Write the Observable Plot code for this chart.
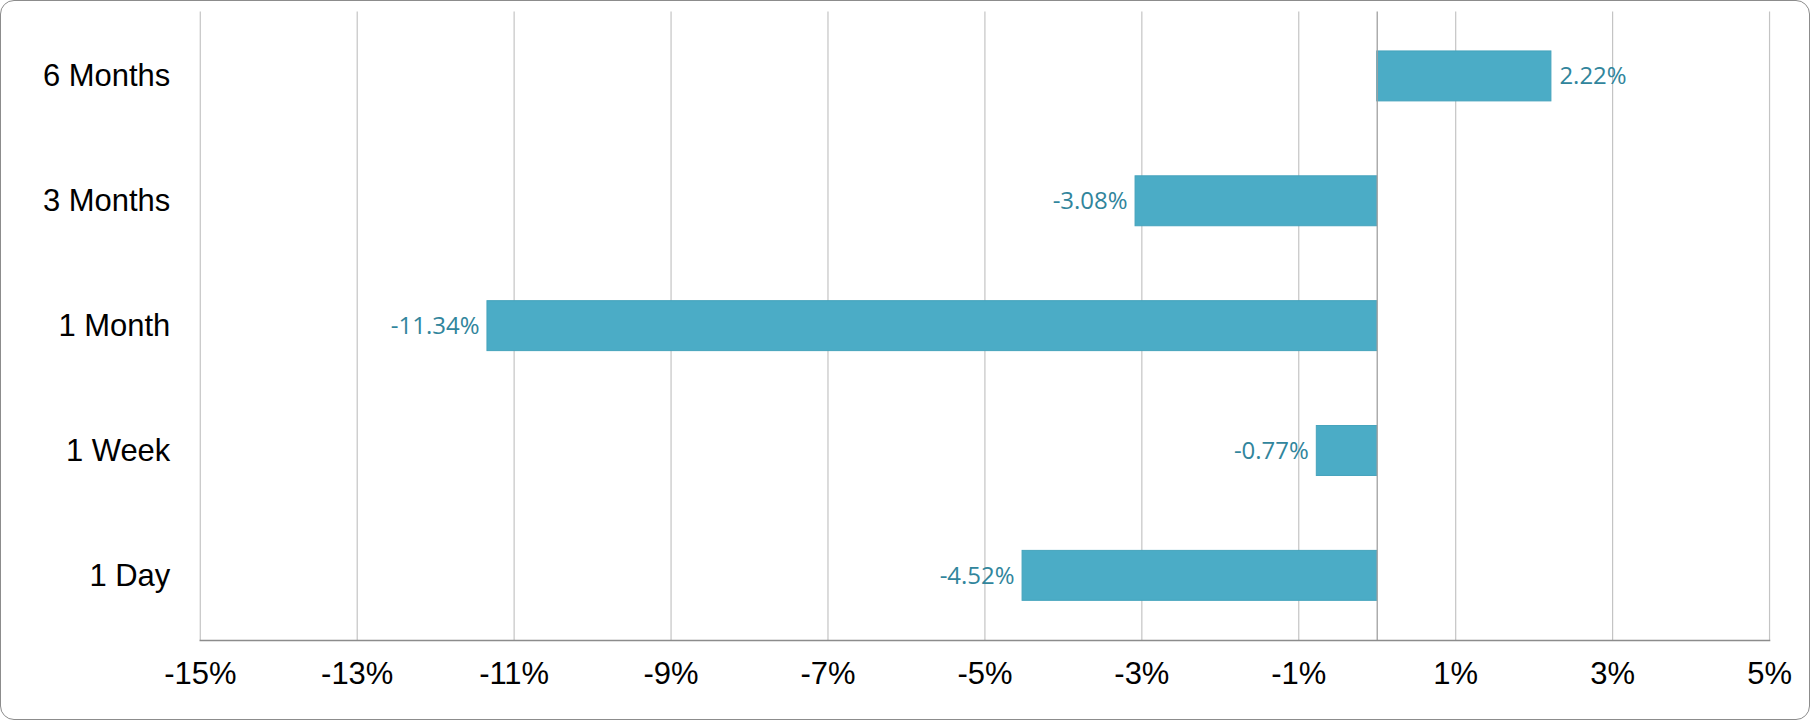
<!DOCTYPE html>
<html>
<head>
<meta charset="utf-8">
<script src="https://cdn.jsdelivr.net/npm/d3@7"></script>
<script src="https://cdn.jsdelivr.net/npm/@observablehq/plot@0.6"></script>
<style>
  html, body { margin: 0; padding: 0; background: #fff; }
  #wrap { position: relative; width: 1810px; height: 720px; box-sizing: border-box;
          border: 1.5px solid #8c8c8c; border-radius: 14px; overflow: hidden; background: #fff; }
  #wrap svg { position: absolute; top: -1.5px; left: -1.5px; }
</style>
</head>
<body>
<div id="wrap"></div>
<script>
const periods = ["6 Months", "3 Months", "1 Month", "1 Week", "1 Day"];
const returns = [2.22, -3.08, -11.34, -0.77, -4.52];
const xTicks = [-15, -13, -11, -9, -7, -5, -3, -1, 1, 3, 5];

const data = periods.map((p, i) => ({period: p, value: returns[i]}));
const fmt = v => v.toFixed(2) + "%";

const chart = Plot.plot({
  width: 1810,
  height: 720,
  marginLeft: 200,
  marginRight: 39,
  marginTop: 11.5,
  marginBottom: 79.3,
  style: {fontFamily: "Arial, 'Liberation Sans', sans-serif", background: "transparent", color: "#000"},
  x: {domain: [-15, 5], ticks: xTicks},
  y: {domain: periods, paddingInner: 0.603, paddingOuter: 0.3015},
  marks: [
    Plot.ruleX(xTicks, {stroke: "#c4c4c4", strokeWidth: 1.2}),
    Plot.barX(data, {x: "value", y: "period", fill: "#4BACC6", stroke: "#45a3bc", strokeWidth: 1}),
    Plot.ruleX([0], {stroke: "#a0a0a0", strokeWidth: 1.3}),
    Plot.frame({anchor: "bottom", stroke: "#8c8c8c", strokeWidth: 1.5}),
    Plot.text(data.filter(d => d.value >= 0), {x: "value", y: "period", text: d => fmt(d.value),
      textAnchor: "start", dx: 8, fill: "#31859C", fontSize: 24, fontFamily: "'Open Sans', sans-serif"}),
    Plot.text(data.filter(d => d.value < 0), {x: "value", y: "period", text: d => fmt(d.value),
      textAnchor: "end", dx: -8, fill: "#31859C", fontSize: 24, fontFamily: "'Open Sans', sans-serif"}),
    Plot.axisY({tickSize: 0, tickPadding: 30, label: null, fontSize: 31, fill: "#000"}),
    Plot.axisX({ticks: xTicks, tickSize: 0, tickPadding: 22, label: null, fontSize: 31, fill: "#000",
      tickFormat: d => d + "%"})
  ]
});
document.getElementById("wrap").appendChild(chart);
</script>
</body>
</html>
